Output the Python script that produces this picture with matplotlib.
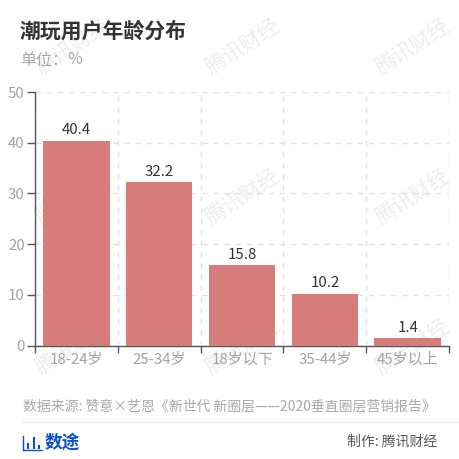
import numpy as np
import matplotlib
matplotlib.use("Agg")
import matplotlib.pyplot as plt
from matplotlib.lines import Line2D

plt.rcParams['font.family'] = ['Noto Sans CJK SC', 'DejaVu Sans']

categories = ['18-24岁', '25-34岁', '18岁以下', '35-44岁', '45岁以上']
values = [40.4, 32.2, 15.8, 10.2, 1.4]
value_labels = ['40.4', '32.2', '15.8', '10.2', '1.4']
y_ticks = [0, 10, 20, 30, 40, 50]

W = H = 459
fig = plt.figure(figsize=(W/100, H/100), dpi=100, facecolor='white')

def fx(x): return x / W
def fy(y): return 1 - y / H

# watermarks
for cy in (47, 197, 347):
    for cx in (73, 243, 413):
        fig.text(fx(cx), fy(cy), '腾讯财经', fontsize=15, color='#ededed', rotation=33,
                 ha='center', va='center', fontweight='light', zorder=0)

ax = fig.add_axes([fx(35), fy(345.5), fx(449) - fx(35), fy(92) - fy(345.5)], zorder=2)
ax.patch.set_alpha(0)
x = np.arange(len(categories))
ax.bar(x, values, width=0.8, color='#d67c7b', zorder=3)
for xi, v, lab in zip(x, values, value_labels):
    ax.annotate(lab, (xi, v), xytext=(0, 2.5), textcoords='offset points', ha='center', va='bottom',
                fontsize=10.8, color='#333333', zorder=4)

ax.set_xlim(-0.5, len(categories) - 0.5)
ax.set_ylim(0, 50)
ax.set_yticks(y_ticks)
ax.set_xticks(np.arange(len(categories) + 1) - 0.5)
ax.set_xticklabels([])
ax.set_xticks(x, minor=True)
ax.set_xticklabels(categories, minor=True)
ax.tick_params(axis='x', which='minor', length=0, pad=5, labelsize=10.8, labelcolor='#a3a3a3')
ax.tick_params(axis='x', which='major', length=5, width=1, color='#555555')
ax.tick_params(axis='y', length=6, width=1, color='#555555', labelsize=10.8, labelcolor='#a3a3a3', pad=1.5)
ax.grid(True, which='major', color='#e2e2e2', linestyle=(0, (4, 4)), linewidth=1, zorder=1)
ax.set_axisbelow(True)
for s in ('top', 'right'):
    ax.spines[s].set_visible(False)
for s in ('left', 'bottom'):
    ax.spines[s].set_color('#555555')
    ax.spines[s].set_linewidth(1)

# header
fig.text(fx(20), fy(31), '潮玩用户年龄分布', fontsize=15, fontweight='bold', color='#333333', ha='left', va='center')
fig.text(fx(20), fy(60), '单位：', fontsize=11.5, color='#aaaaaa', ha='left', va='center')
fig.text(fx(82), fy(60), '%', fontsize=11.5, color='#aaaaaa', ha='right', va='center')

# footer
fig.text(fx(23), fy(406), '数据来源: 赞意×艺恩《新世代 新圈层——2020垂直圈层营销报告》', fontsize=10,
         color='#aaaaaa', ha='left', va='center')
fig.add_artist(Line2D([fx(23), fx(459)], [fy(421.5), fy(421.5)], color='#eeeeee', lw=1))
blue = '#0a4fd2'
fig.add_artist(Line2D([fx(23), fx(23)], [fy(436), fy(450)], color=blue, lw=1))
fig.add_artist(Line2D([fx(23), fx(41.5)], [fy(450), fy(450)], color=blue, lw=1))
for px, top in ((28, 443), (33.5, 437), (38.5, 445)):
    fig.add_artist(Line2D([fx(px), fx(px)], [fy(top), fy(449)], color=blue, lw=1.5, solid_capstyle='butt'))
fig.text(fx(45), fy(443), '数途', fontsize=12.7, fontweight='bold', color=blue, ha='left', va='center')
fig.text(fx(437), fy(442), '制作: 腾讯财经', fontsize=10, color='#555555', ha='right', va='center')

fig.savefig('out.png', dpi=100, facecolor='white')
